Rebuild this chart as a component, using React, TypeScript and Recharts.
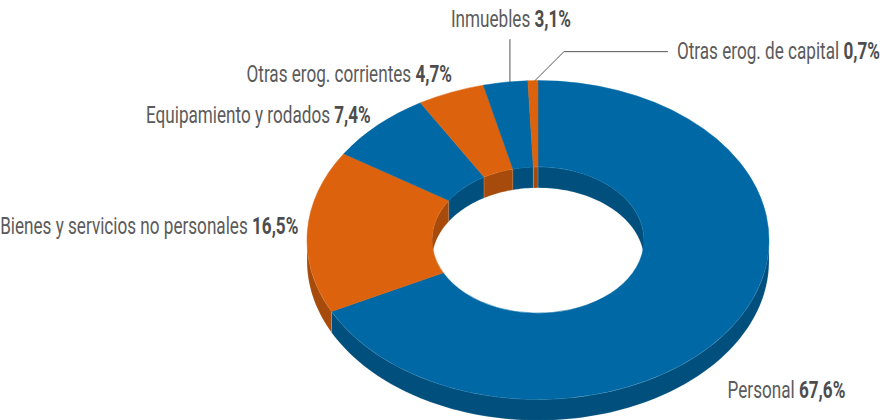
import { PieChart, Pie, Cell } from 'recharts';

const categories = [
  'Personal',
  'Bienes y servicios no personales',
  'Equipamiento y rodados',
  'Otras erog. corrientes',
  'Inmuebles',
  'Otras erog. de capital',
];
const shares = [67.6, 16.5, 7.4, 4.7, 3.1, 0.7];

const topColors = ['#0069a5', '#dc620d'];
const sideColors = ['#004f7d', '#a64b0c'];

const data = categories.map((name, i) => ({ name, value: shares[i] }));

// vertical squash of the ring and height of its walls
const K = 0.69;
const DEPTH = 21;
const RAD = Math.PI / 180;

// no condensed face is installed, so squeeze a normal one horizontally
const FONT = "Roboto, 'Open Sans', sans-serif";
const FONT_SIZE = 23;
const SQUEEZE = 0.745;

// where each label sits, relative to the rim point at the slice's middle angle
const labelLayout = [
  { anchor: 'start', dx: -7, dy: 74 },
  { anchor: 'end', dx: -9, dy: 3 },
  { anchor: 'end', dx: -7, dy: -2 },
  { anchor: 'end', dx: 1, dy: -10 },
  { anchor: 'middle', dx: 5.5, dy: -55, leader: 'vertical' },
  { anchor: 'start', dx: 144, dy: -22, leader: 'elbow' },
];

function pt(cx: number, cy: number, r: number, a: number): [number, number] {
  return [cx + r * Math.cos(a * RAD), cy - r * K * Math.sin(a * RAD)];
}

function arcPts(cx: number, cy: number, r: number, a0: number, a1: number, dy = 0) {
  const n = Math.max(2, Math.ceil(Math.abs(a1 - a0) / 1.5) + 1);
  const out: [number, number][] = [];
  for (let i = 0; i < n; i++) {
    const [x, y] = pt(cx, cy, r, a0 + ((a1 - a0) * i) / (n - 1));
    out.push([x, y + dy]);
  }
  return out;
}

function wallPath(cx: number, cy: number, r: number, lo: number, hi: number) {
  const pts = [...arcPts(cx, cy, r, lo, hi), ...arcPts(cx, cy, r, hi, lo, DEPTH)];
  return 'M' + pts.map((p) => `${p[0].toFixed(2)},${p[1].toFixed(2)}`).join('L') + 'Z';
}

function clip(lo: number, hi: number, a: number, b: number) {
  const l = Math.max(lo, a);
  const h = Math.min(hi, b);
  return h > l ? [l, h] : null;
}

function SideShape(props: any) {
  const { cx, cy, innerRadius, outerRadius, startAngle, endAngle, fill } = props;
  const lo = Math.min(startAngle, endAngle);
  const hi = Math.max(startAngle, endAngle);
  const paths: string[] = [];
  const front = clip(lo, hi, -180, 0);
  if (front) paths.push(wallPath(cx, cy, outerRadius, front[0], front[1]));
  for (const [a, b] of [[0, 90], [-270, -180]]) {
    const c = clip(lo, hi, a, b);
    if (c) paths.push(wallPath(cx, cy, innerRadius, c[0], c[1]));
  }
  return (
    <g>
      {paths.map((d, i) => (
        <path key={i} d={d} fill={fill} stroke="rgba(255,255,255,0.25)" strokeWidth={0.6} />
      ))}
    </g>
  );
}

function TopShape(props: any) {
  const { cx, cy, innerRadius: ri, outerRadius: ro, startAngle: s, endAngle: e, fill } = props;
  const large = Math.abs(s - e) > 180 ? 1 : 0;
  const sweep = s > e ? 1 : 0;
  const [x0, y0] = pt(cx, cy, ro, s);
  const [x1, y1] = pt(cx, cy, ro, e);
  const [x2, y2] = pt(cx, cy, ri, e);
  const [x3, y3] = pt(cx, cy, ri, s);
  const d = `M${x0},${y0} A${ro},${ro * K} 0 ${large} ${sweep} ${x1},${y1} L${x2},${y2} A${ri},${ri * K} 0 ${large} ${1 - sweep} ${x3},${y3} Z`;
  return <path d={d} fill={fill} stroke={fill} strokeWidth={0.5} />;
}

function formatShare(v: number) {
  return `${v.toFixed(1).replace('.', ',')}%`;
}

function renderLabel(props: any) {
  const { cx, cy, midAngle, outerRadius } = props;
  const name = props.name ?? props.payload?.name;
  const idx = categories.indexOf(name);
  const lay = labelLayout[idx];
  const [px, py] = pt(cx, cy, outerRadius, midAngle);
  const tx = px + lay.dx;
  const ty = py + lay.dy;
  let leader = null;
  if (lay.leader === 'vertical') {
    leader = <path d={`M${px + 4.5},${py} L${px + 4.5},${py - 43}`} stroke="#555" strokeWidth={1} fill="none" />;
  } else if (lay.leader === 'elbow') {
    leader = (
      <path
        d={`M${px + 2},${py} L${px + 31},${py - 29} L${px + 135},${py - 29}`}
        stroke="#555"
        strokeWidth={1}
        fill="none"
      />
    );
  }
  return (
    <g key={`lbl-${idx}`}>
      {leader}
      <g transform={`translate(${tx},${ty}) scale(${SQUEEZE},1)`}>
        <text x={0} y={0} textAnchor={lay.anchor} fontSize={FONT_SIZE} fill="#5b5b5b" style={{ fontFamily: FONT }}>
          <tspan>{`${name} `}</tspan>
          <tspan fontWeight="bold" fill="#4d4d4d">
            {formatShare(shares[idx])}
          </tspan>
        </text>
      </g>
    </g>
  );
}

const pieGeom = {
  cx: 538,
  cy: 240,
  innerRadius: 106,
  outerRadius: 231,
  startAngle: 90,
  endAngle: -270,
  dataKey: 'value',
  nameKey: 'name',
  stroke: 'none',
  isAnimationActive: false,
};

export default function App() {
  return (
    <div style={{ position: 'absolute', left: 0, top: 0, width: 880, height: 420, background: '#fff' }}>
      <PieChart width={880} height={420} margin={{ top: 0, right: 0, bottom: 0, left: 0 }}>
        <Pie
          {...pieGeom}
          data={data}
          shape={SideShape}
          activeShape={SideShape}
          inactiveShape={SideShape}
          label={false}
          labelLine={false}
        >
          {data.map((d, i) => (
            <Cell key={d.name} fill={sideColors[i % 2]} />
          ))}
        </Pie>
        <Pie
          {...pieGeom}
          data={data}
          shape={TopShape}
          activeShape={TopShape}
          inactiveShape={TopShape}
          label={renderLabel}
          labelLine={false}
        >
          {data.map((d, i) => (
            <Cell key={d.name} fill={topColors[i % 2]} />
          ))}
        </Pie>
      </PieChart>
    </div>
  );
}
